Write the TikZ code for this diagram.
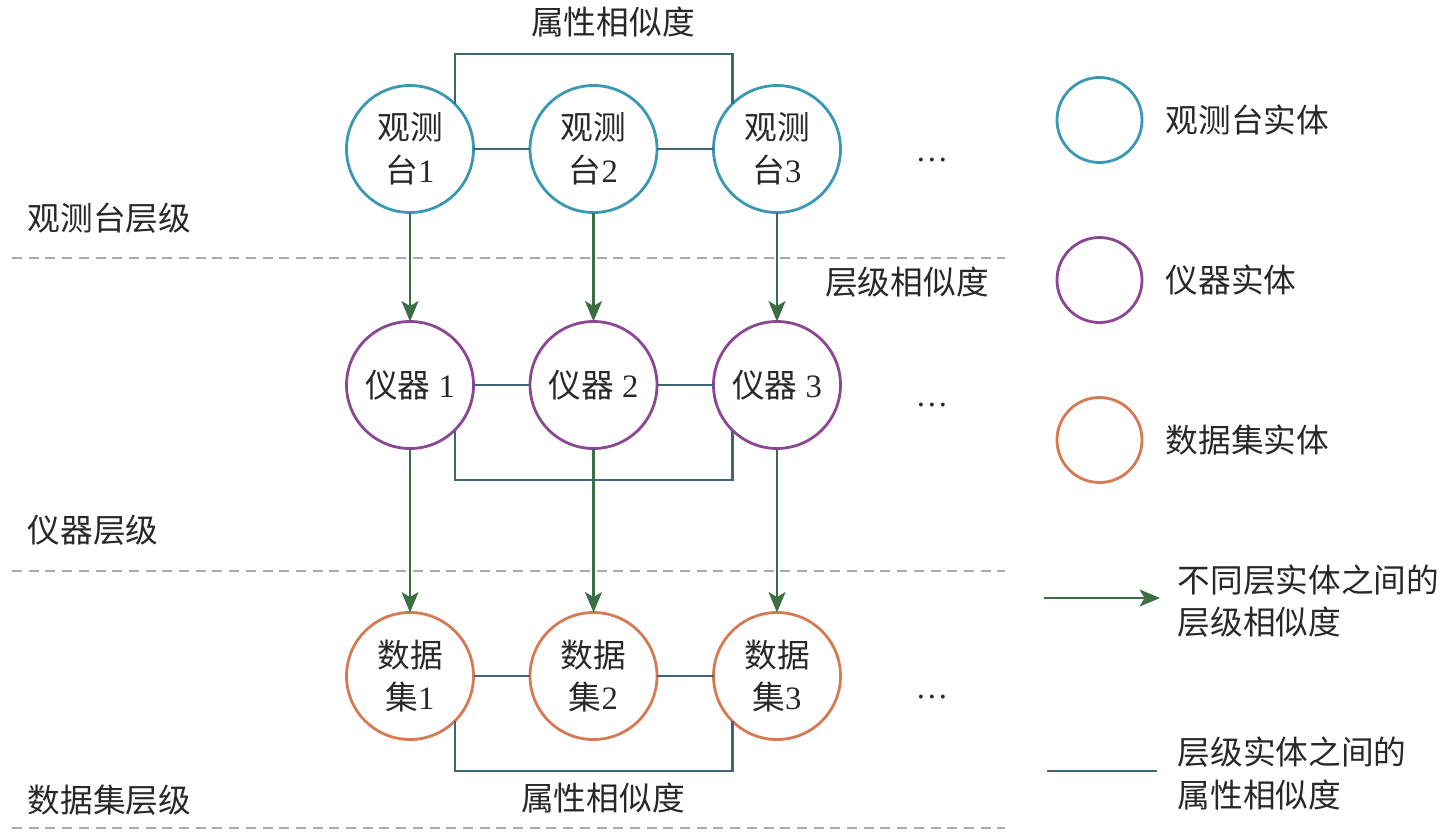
\documentclass[tikz,border=0pt]{standalone}
\usepackage{fontspec}
\setmainfont{Liberation Serif}
\newfontfamily\cjk{Noto Sans CJK SC}
\usepackage{tikz}
\usetikzlibrary{arrows.meta,positioning}
\definecolor{ObsBlue}{RGB}{58,152,178}
\definecolor{InsPurple}{RGB}{138,72,148}
\definecolor{DsOrange}{RGB}{214,122,84}
\definecolor{LevelGreen}{RGB}{60,110,70}
\definecolor{LinkBlue}{RGB}{66,100,120}
\definecolor{SepGray}{RGB}{170,170,170}
\definecolor{TextGray}{RGB}{40,40,40}
\newcommand{\zh}[1]{{\cjk #1}}

\begin{document}
\begin{tikzpicture}[>={Stealth[length=5.8pt,width=4.8pt,inset=1.4pt]},
    every node/.style={font=\fontsize{9.3pt}{12.1pt}\selectfont, text=TextGray, inner sep=0pt},
    ent/.style={circle, draw, line width=0.8pt, minimum size=1.27cm, outer sep=0pt, align=center},
    link/.style={draw=LinkBlue, line width=0.8pt},
    lvl/.style={->, draw=LevelGreen, line width=0.8pt},
    sep/.style={draw=SepGray, line width=0.8pt, dash pattern=on 0.1cm off 0.067cm}]
            \useasboundingbox (0,0) rectangle (14.41,8.39);

            % Draw the entity circles
            \foreach \x[count=\c] in {4.10, 5.935, 7.77}{
                \node[ent, draw=ObsBlue] (obs\c) at (\x,6.90) {\zh{观测}\\\zh{台}\c};
                \node[ent, draw=InsPurple] (ins\c) at (\x,4.54) {\zh{仪器} \c};
                \node[ent, draw=DsOrange] (ds\c) at (\x,1.63) {\zh{数据}\\\zh{集}\c};
            }

            % draw the ... right of each row
            \foreach \y[count=\c] in {6.79, 4.34, 1.42}{
                \node (more\c) at (9.32,\y) {\dots};
            }

            % Draw the links inside a level
            \foreach \a[count=\b from 2] in {1, 2}{
                \draw[link] (obs\a) -- (obs\b);
                \draw[link] (ins\a) -- (ins\b);
                \draw[link] (ds\a) -- (ds\b);
            }

            % Draw the level arrows
            \foreach \c in {1, 2, 3}{
                \draw[lvl] (obs\c) -- (ins\c);
                \draw[lvl] (ins\c) -- (ds\c);
            }

            % Draw the brackets between first and last entity
            \coordinate (topbar) at (0,7.85);
            \coordinate (midbar) at (0,3.59);
            \coordinate (lowbar) at (0,0.68);
            \draw[link] (obs1.45) -- (obs1.45 |- topbar) -- (obs3.135 |- topbar) -- (obs3.135);
            \draw[link] (ins1.-45) -- (ins1.-45 |- midbar) -- (ins3.-135 |- midbar) -- (ins3.-135);
            \draw[link] (ds1.-45) -- (ds1.-45 |- lowbar) -- (ds3.-135 |- lowbar) -- (ds3.-135);

            \node (topsim) at (6.13,8.17) {\zh{属性相似度}};
            \node (lowsim) at (6.03,0.41) {\zh{属性相似度}};
            \node (levsim) at (9.07,5.57) {\zh{层级相似度}};

            %draw the level separators and names
            \foreach \y[count=\c] in {5.81, 2.68, 0.11}{
                \coordinate (sepL\c) at (0.12,\y);
                \coordinate (sepR\c) at (10.05,\y);
                \draw[sep] (sepL\c) -- (sepR\c);
            }
            \node[anchor=west] (obslvl) at (0.27,6.21) {\zh{观测台层级}};
            \node[anchor=west] (inslvl) at (0.27,3.09) {\zh{仪器层级}};
            \node[anchor=west] (dslvl) at (0.27,0.39) {\zh{数据集层级}};

            % Draw the legend
            \node[ent, draw=ObsBlue, minimum size=0.85cm] (keyobs) at (10.995,7.19) {};
            \node[ent, draw=InsPurple, minimum size=0.85cm] (keyins) at (10.995,5.59) {};
            \node[ent, draw=DsOrange, minimum size=0.85cm] (keyds) at (10.995,3.99) {};
            \node[anchor=west] (keyobstxt) at (11.65,7.19) {\zh{观测台实体}};
            \node[anchor=west] (keyinstxt) at (11.65,5.59) {\zh{仪器实体}};
            \node[anchor=west] (keydstxt) at (11.65,3.99) {\zh{数据集实体}};

            \coordinate (keyarrL) at (10.44,2.41);
            \coordinate (keyarrR) at (11.60,2.41);
            \draw[lvl] (keyarrL) -- (keyarrR);
            \node[anchor=west, align=left] (keyarrtxt) at (11.77,2.38) {\zh{不同层实体之间的}\\\zh{层级相似度}};

            \coordinate (keylinkL) at (10.47,0.68);
            \coordinate (keylinkR) at (11.57,0.68);
            \draw[link] (keylinkL) -- (keylinkR);
            \node[anchor=west, align=left] (keylinktxt) at (11.77,0.655) {\zh{层级实体之间的}\\\zh{属性相似度}};
        \end{tikzpicture}
\end{document}
